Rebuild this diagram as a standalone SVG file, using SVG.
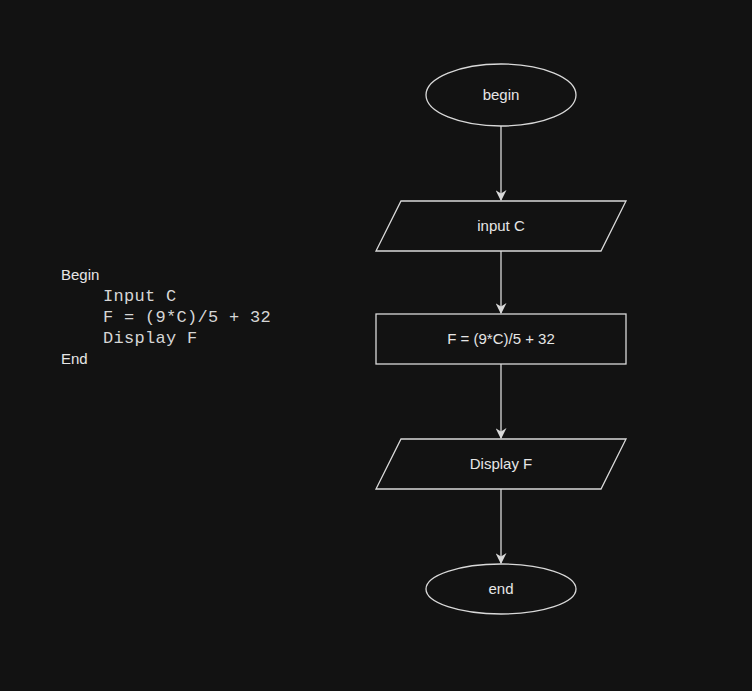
<svg xmlns="http://www.w3.org/2000/svg" width="752" height="691" viewBox="0 0 752 691">
<defs>
<style>
.shape{fill:#121212;stroke:#d9d9d9;stroke-width:1.3}
.lbl{font-family:"Liberation Sans",Arial,sans-serif;font-size:15px;fill:#e6e6e6;text-anchor:middle}
.conn{stroke:#d9d9d9;stroke-width:1.3;fill:none;marker-end:url(#ah)}
.code{font-family:"Liberation Sans",Arial,sans-serif;font-size:15px;fill:#e6e6e6}
.mono{font-family:"Liberation Mono","Courier New",monospace;font-size:17px;letter-spacing:0.3px;fill:#d6d6d6}
</style>
<marker id="ah" viewBox="0 0 10 10" refX="9" refY="5" markerWidth="11" markerHeight="11" markerUnits="userSpaceOnUse" orient="auto">
<path d="M0,0 L10,5 L0,10 L3,5 Z" fill="#d9d9d9"/>
</marker>
</defs>
<rect width="752" height="691" fill="#121212"/>
<g id="pseudocode">
<text class="code" x="61" y="280">Begin</text>
<text class="mono" x="103" y="301">Input C</text>
<text class="mono" x="103" y="322">F = (9*C)/5 + 32</text>
<text class="mono" x="103" y="343">Display F</text>
<text class="code" x="61" y="364">End</text>
</g>
<g id="connectors">
<path class="conn" d="M501,126 L501,200"/>
<path class="conn" d="M501,251 L501,313"/>
<path class="conn" d="M501,364 L501,438"/>
<path class="conn" d="M501,489 L501,563"/>
</g>
<g id="begin">
<ellipse class="shape" cx="501" cy="95" rx="75" ry="31"/>
<text class="lbl" x="501" y="100">begin</text>
</g>
<g id="inputC">
<polygon class="shape" points="401,201 626,201 601,251 376,251"/>
<text class="lbl" x="501" y="231">input C</text>
</g>
<g id="compute">
<rect class="shape" x="376" y="314" width="250" height="50"/>
<text class="lbl" x="501" y="344">F = (9*C)/5 + 32</text>
</g>
<g id="displayF">
<polygon class="shape" points="401,439 626,439 601,489 376,489"/>
<text class="lbl" x="501" y="469">Display F</text>
</g>
<g id="end">
<ellipse class="shape" cx="501" cy="589" rx="75" ry="25"/>
<text class="lbl" x="501" y="594">end</text>
</g>
</svg>
